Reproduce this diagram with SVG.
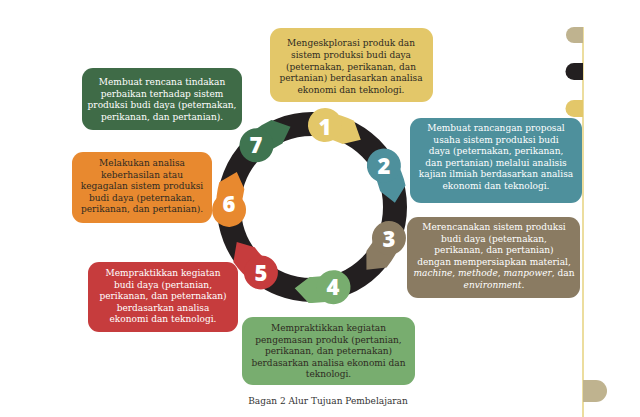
<svg xmlns="http://www.w3.org/2000/svg" width="640" height="417" viewBox="0 0 640 417">
<defs>
<style>
.t{font-family:"DejaVu Serif","Liberation Serif",serif;font-size:9px;text-anchor:middle}
.w{fill:#ffffff}
.d{fill:#2e2a22}
.n{font-family:"Open Sans","DejaVu Sans",sans-serif;font-weight:800;font-size:22px;fill:#ffffff;text-anchor:middle}
.cap{font-family:"DejaVu Serif","Liberation Serif",serif;font-size:9px;fill:#333333;text-anchor:middle}
</style>
<path id="seg" d="M0,-96 A96,96 0 0 1 28.07,-91.80 L37.68,-73.95 L20.47,-66.94 A70,70 0 0 0 0,-70 Z"/>
</defs>
<rect width="640" height="417" fill="#ffffff"/>
<g id="decor">
<line x1="583" y1="27" x2="583" y2="417" stroke="#E6D27E" stroke-width="1.5"/>
<path d="M583,27 L574,27 A8,8 0 0 0 574,43 L583,43 Z" fill="#BFB38F"/>
<path d="M583,63 L574,63 A8.5,8.5 0 0 0 574,80 L583,80 Z" fill="#231f20"/>
<path d="M583,100 L574,100 A8.5,8.5 0 0 0 574,117 L583,117 Z" fill="#E3C769"/>
<path d="M583,380 L596,380 A11,11 0 0 1 596,402 L583,402 Z" fill="#BFB38F"/>
</g>
<g id="connectors">
<circle cx="312" cy="207" r="83" fill="none" stroke="#231f20" stroke-width="24"/>
</g>
<g id="step1">
<g transform="translate(312,207) rotate(9)" fill="#E3C769"><use href="#seg"/><circle cx="0" cy="-83" r="17"/></g>
<text class="n" x="325" y="135">1</text>
</g>
<g id="step2">
<g transform="translate(312,207) rotate(60)" fill="#4E909C"><use href="#seg"/><circle cx="0" cy="-83" r="17"/></g>
<text class="n" x="384" y="174">2</text>
</g>
<g id="step3">
<g transform="translate(312,207) rotate(112)" fill="#8A7B62"><use href="#seg"/><circle cx="0" cy="-83" r="17"/></g>
<text class="n" x="389" y="247">3</text>
</g>
<g id="step4">
<g transform="translate(312,207) rotate(165)" fill="#78AD6F"><use href="#seg"/><circle cx="0" cy="-83" r="17"/></g>
<text class="n" x="333" y="295">4</text>
</g>
<g id="step5">
<g transform="translate(312,207) rotate(218)" fill="#C63C3D"><use href="#seg"/><circle cx="0" cy="-83" r="17"/></g>
<text class="n" x="261" y="281">5</text>
</g>
<g id="step6">
<g transform="translate(312,207) rotate(268)" fill="#E8892F"><use href="#seg"/><circle cx="0" cy="-83" r="17"/></g>
<text class="n" x="229" y="212">6</text>
</g>
<g id="step7">
<g transform="translate(312,207) rotate(318)" fill="#3F7450"><use href="#seg"/><circle cx="0" cy="-83" r="17"/></g>
<text class="n" x="256" y="153">7</text>
</g>
<g id="box1">
<rect x="270" y="28" width="163" height="74" rx="11" fill="#E3C769"/>
<text class="t d" y="46.3"><tspan x="351">Mengeskplorasi produk dan</tspan><tspan x="351" dy="11.7">sistem produksi budi daya</tspan><tspan x="351" dy="11.7">(peternakan, perikanan, dan</tspan><tspan x="351" dy="11.7">pertanian) berdasarkan analisa</tspan><tspan x="351" dy="11.7">ekonomi dan teknologi.</tspan></text>
</g>
<g id="box2">
<rect x="410" y="118" width="172" height="85" rx="11" fill="#4E909C"/>
<text class="t w" y="131"><tspan x="496">Membuat rancangan proposal</tspan><tspan x="496" dy="11.6">usaha sistem produksi budi</tspan><tspan x="496" dy="11.6">daya (peternakan, perikanan,</tspan><tspan x="496" dy="11.6">dan pertanian) melalui analisis</tspan><tspan x="496" dy="11.6">kajian ilmiah berdasarkan analisa</tspan><tspan x="496" dy="11.6">ekonomi dan teknologi.</tspan></text>
</g>
<g id="box3">
<rect x="407" y="217" width="173" height="81" rx="11" fill="#8A7B62"/>
<text class="t w" y="230"><tspan x="494">Merencanakan sistem produksi</tspan><tspan x="494" dy="11.6">budi daya (peternakan,</tspan><tspan x="494" dy="11.6">perikanan, dan pertanian)</tspan><tspan x="494" dy="11.6">dengan mempersiapkan material,</tspan><tspan x="494" dy="11.6"><tspan font-style="italic">machine</tspan>, <tspan font-style="italic">methode</tspan>, <tspan font-style="italic">manpower</tspan>, dan</tspan><tspan x="494" dy="11.6"><tspan font-style="italic">environment</tspan>.</tspan></text>
</g>
<g id="box4">
<rect x="242" y="317" width="173" height="68" rx="11" fill="#78AD6F"/>
<text class="t d" y="331"><tspan x="328.5">Mempraktikkan kegiatan</tspan><tspan x="328.5" dy="11.6">pengemasan produk (pertanian,</tspan><tspan x="328.5" dy="11.6">perikanan, dan peternakan)</tspan><tspan x="328.5" dy="11.6">berdasarkan analisa ekonomi dan</tspan><tspan x="328.5" dy="11.6">teknologi.</tspan></text>
</g>
<g id="box5">
<rect x="88" y="262" width="150" height="70" rx="11" fill="#C63C3D"/>
<text class="t w" y="276"><tspan x="163">Mempraktikkan kegiatan</tspan><tspan x="163" dy="11.6">budi daya (pertanian,</tspan><tspan x="163" dy="11.6">perikanan, dan peternakan)</tspan><tspan x="163" dy="11.6">berdasarkan analisa</tspan><tspan x="163" dy="11.6">ekonomi dan teknologi.</tspan></text>
</g>
<g id="box6">
<rect x="72" y="152" width="140" height="71" rx="11" fill="#E8892F"/>
<text class="t d" y="166"><tspan x="142">Melakukan analisa</tspan><tspan x="142" dy="11.6">keberhasilan atau</tspan><tspan x="142" dy="11.6">kegagalan sistem produksi</tspan><tspan x="142" dy="11.6">budi daya (peternakan,</tspan><tspan x="142" dy="11.6">perikanan, dan pertanian).</tspan></text>
</g>
<g id="box7">
<rect x="82" y="68" width="160" height="62" rx="11" fill="#3F6B47"/>
<text class="t w" y="85"><tspan x="162">Membuat rencana tindakan</tspan><tspan x="162" dy="11.6">perbaikan terhadap sistem</tspan><tspan x="162" dy="11.6">produksi budi daya (peternakan,</tspan><tspan x="162" dy="11.6">perikanan, dan pertanian).</tspan></text>
</g>
<text class="cap" x="328" y="404">Bagan 2 Alur Tujuan Pembelajaran</text>
</svg>
